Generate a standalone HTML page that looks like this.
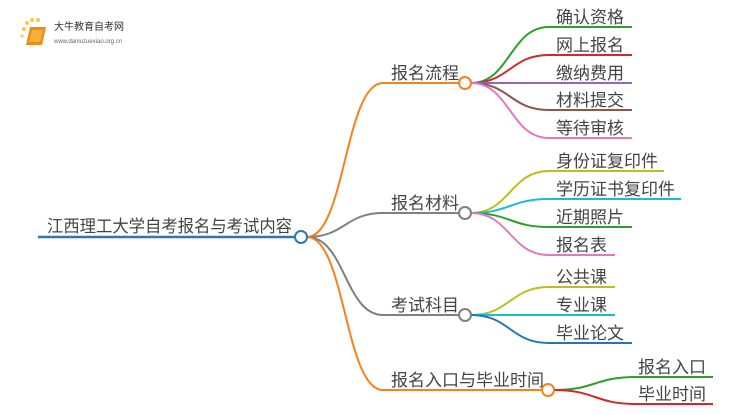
<!DOCTYPE html>
<html><head><meta charset="utf-8"><style>
body{margin:0;background:#fff;width:750px;height:410px;overflow:hidden}
svg text{font-family:"Liberation Sans","Noto Sans CJK SC",sans-serif;fill:#444;font-size:17px}
</style></head><body>
<svg width="750" height="410" viewBox="0 0 750 410" xmlns="http://www.w3.org/2000/svg" fill="none" stroke-width="2">
<g stroke="none">
<circle cx="24" cy="29" r="2" fill="#f8c84a"/><circle cx="27" cy="23" r="2" fill="#f8c84a"/><circle cx="32" cy="20" r="2" fill="#f8c84a"/><circle cx="38" cy="20" r="2" fill="#f8c84a"/><circle cx="22" cy="36" r="1.6" fill="#f8d070"/>
<path d="M30 27 L46 27 L42 45 L26 45 Z" fill="#f08a10"/>
<path d="M32 30 L43 30 L40 42 L29 42 Z" fill="#f8b040"/>
<text x="54" y="30" style="font-size:10px;fill:#333">大牛教育自考网</text>
<text x="54" y="43" style="font-size:6px;fill:#666">www.daniuzuexiao.org.cn</text>
</g>
<line x1="38" y1="237" x2="295" y2="237" stroke="#2a77b8" stroke-width="2.5"/>
<text x="47" y="232" textLength="245" lengthAdjust="spacingAndGlyphs" style="font-size:17px">江西理工大学自考报名与考试内容</text>
<path d="M307 237 C345 237 345 83 383 83" stroke="#f7821c"/>
<path d="M307 237 C345 237 345 213 383 213" stroke="#808080"/>
<path d="M307 237 C345 237 345 315 383 315" stroke="#808080"/>
<path d="M307 237 C345 237 345 390 383 390" stroke="#f7821c"/>
<line x1="383" y1="83" x2="459" y2="83" stroke="#f7821c"/>
<line x1="383" y1="213" x2="459" y2="213" stroke="#808080"/>
<line x1="383" y1="315" x2="459" y2="315" stroke="#808080"/>
<line x1="383" y1="390" x2="542" y2="390" stroke="#f7821c"/>
<text x="391" y="79">报名流程</text>
<text x="391" y="209">报名材料</text>
<text x="391" y="311">考试科目</text>
<text x="391" y="386">报名入口与毕业时间</text>
<path d="M471 83 C510 83 510 27 549 27 H632" stroke="#2ca02c"/>
<path d="M471 83 C510 83 510 55 549 55 H632" stroke="#d62728"/>
<path d="M471 83 H632" stroke="#9467bd"/>
<path d="M471 83 C510 83 510 110 549 110 H632" stroke="#8c564b"/>
<path d="M471 83 C510 83 510 138 549 138 H632" stroke="#e377c2"/>
<text x="556" y="23">确认资格</text><text x="556" y="51">网上报名</text><text x="556" y="79">缴纳费用</text><text x="556" y="106">材料提交</text><text x="556" y="134">等待审核</text>
<path d="M471 213 C510 213 510 171 549 171 H664" stroke="#bcbd22"/>
<path d="M471 213 C510 213 510 199 549 199 H681" stroke="#17becf"/>
<path d="M471 213 C510 213 510 227 549 227 H632" stroke="#2ca02c"/>
<path d="M471 213 C510 213 510 255 549 255 H615" stroke="#e377c2"/>
<text x="556" y="167">身份证复印件</text><text x="556" y="195">学历证书复印件</text><text x="556" y="223">近期照片</text><text x="556" y="251">报名表</text>
<path d="M471 315 C510 315 510 287 549 287 H615" stroke="#bcbd22"/>
<path d="M471 315 H615" stroke="#17becf"/>
<path d="M471 315 C510 315 510 343 549 343 H632" stroke="#1f77b4"/>
<text x="556" y="283">公共课</text><text x="556" y="311">专业课</text><text x="556" y="339">毕业论文</text>
<path d="M554 390 C595 390 595 377 636 377 H713" stroke="#2ca02c"/>
<path d="M554 390 C595 390 595 404 636 404 H713" stroke="#d62728"/>
<text x="638" y="373">报名入口</text><text x="638" y="400">毕业时间</text>
<circle cx="301" cy="237" r="6" fill="#fff" stroke="#2a77b8" stroke-width="2"/>
<circle cx="465" cy="83" r="6" fill="#fff" stroke="#f7821c" stroke-width="2"/>
<circle cx="465" cy="213" r="6" fill="#fff" stroke="#808080" stroke-width="2"/>
<circle cx="465" cy="315" r="6" fill="#fff" stroke="#808080" stroke-width="2"/>
<circle cx="548" cy="390" r="6" fill="#fff" stroke="#f7821c" stroke-width="2"/>
</svg>
</body></html>
